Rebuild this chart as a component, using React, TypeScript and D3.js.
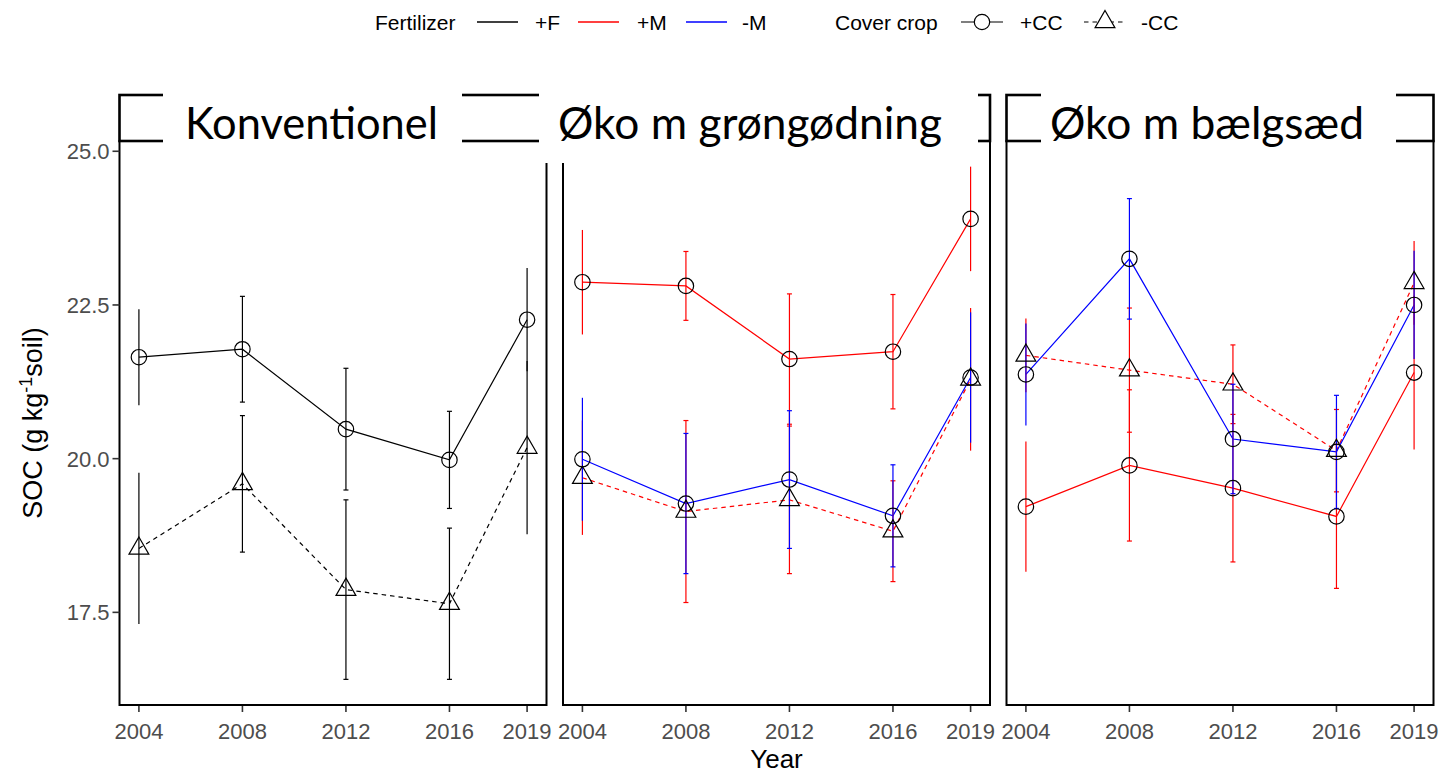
import * as d3 from 'd3';

// Axis categories
const YEARS = [2004, 2008, 2012, 2016, 2019];
const Y_TICKS = [17.5, 20.0, 22.5, 25.0];
const PANEL_TITLES = ["Konventionel", "Øko m grøngødning", "Øko m bælgsæd"];
const FERT_LEVELS = ["+F", "+M", "-M"];
const CC_LEVELS = ["+CC", "-CC"];

// Konventionel (mean and half width of the error bar, g/kg)
const KONV_F_CC = [21.65, 21.78, 20.48, 19.98, 22.26];
const KONV_F_CC_ERR = [0.78, 0.86, 0.99, 0.79, 0.84];
const KONV_F_NOCC = [18.54, 19.59, 17.87, 17.64, 20.18];
const KONV_F_NOCC_ERR = [1.23, 1.11, 1.46, 1.23, 1.41];

// Øko m grøngødning
const GRON_M_CC = [22.87, 22.81, 21.62, 21.74, 23.90];
const GRON_M_CC_ERR = [0.85, 0.56, 1.06, 0.93, 0.85];
const GRON_M_NOCC = [19.69, 19.14, 19.33, 18.82, 21.29];
const GRON_M_NOCC_ERR = [0.93, 1.48, 1.20, 0.82, 1.16];
const GRON_NOM_CC = [19.99, 19.27, 19.66, 19.07, 21.32];
const GRON_NOM_CC_ERR = [1.00, 1.14, 1.12, 0.83, 1.06];

// Øko m bælgsæd
const BAELG_M_CC = [19.22, 19.89, 19.52, 19.06, 21.40];
const BAELG_M_CC_ERR = [1.06, 1.23, 1.20, 1.17, 1.25];
const BAELG_M_NOCC = [21.68, 21.44, 21.21, 20.13, 22.86];
const BAELG_M_NOCC_ERR = [0.60, 1.01, 0.64, 0.67, 0.68];
const BAELG_NOM_CC = [21.37, 23.25, 20.32, 20.11, 22.50];
const BAELG_NOM_CC_ERR = [0.83, 0.98, 0.89, 0.92, 0.88];

const SERIES = [
  { panel: 0, fert: "+F", cc: "+CC", mean: KONV_F_CC, err: KONV_F_CC_ERR },
  { panel: 0, fert: "+F", cc: "-CC", mean: KONV_F_NOCC, err: KONV_F_NOCC_ERR },
  { panel: 1, fert: "+M", cc: "+CC", mean: GRON_M_CC, err: GRON_M_CC_ERR },
  { panel: 1, fert: "+M", cc: "-CC", mean: GRON_M_NOCC, err: GRON_M_NOCC_ERR },
  { panel: 1, fert: "-M", cc: "+CC", mean: GRON_NOM_CC, err: GRON_NOM_CC_ERR },
  { panel: 2, fert: "+M", cc: "+CC", mean: BAELG_M_CC, err: BAELG_M_CC_ERR },
  { panel: 2, fert: "+M", cc: "-CC", mean: BAELG_M_NOCC, err: BAELG_M_NOCC_ERR },
  { panel: 2, fert: "-M", cc: "+CC", mean: BAELG_NOM_CC, err: BAELG_NOM_CC_ERR },
];

const FERT_COLOR = d3.scaleOrdinal<string, string>().domain(FERT_LEVELS).range(["#000000", "#FF0000", "#0000FF"]);
const CC_DASH = d3.scaleOrdinal<string, string>().domain(CC_LEVELS).range(["none", "4.5,4"]);

const W = 1439;
const H = 776;
const PANEL_LEFT = 119.5;
const PANEL_W = 427;
const PANEL_GAP = 16.5;
const PANEL_TOP = 141;
const PANEL_BOTTOM = 705;
const STRIP_TOP = 95;
const AXIS_FONT = "'Liberation Sans', Arial, sans-serif";
const STRIP_FONT = "Lato, 'Open Sans', sans-serif";

function panelX(i: number) {
  return PANEL_LEFT + i * (PANEL_W + PANEL_GAP);
}

// y domain: data range with ggplot's 5% expansion
const lows = SERIES.flatMap(s => s.mean.map((m, i) => m - s.err[i]));
const highs = SERIES.flatMap(s => s.mean.map((m, i) => m + s.err[i]));
const yMin = d3.min(lows)!;
const yMax = d3.max(highs)!;
const yPad = (yMax - yMin) * 0.05;
const y = d3.scaleLinear().domain([yMin - yPad, yMax + yPad]).range([PANEL_BOTTOM, PANEL_TOP]);

const xPad = (YEARS[YEARS.length - 1] - YEARS[0]) * 0.05;
const xDomain = [YEARS[0] - xPad, YEARS[YEARS.length - 1] + xPad];

const triangle = d3.symbol().type(d3.symbolTriangle).size(170)()!;

// white boxes that sit behind the strip titles (they hide parts of the strip frames)
const STRIP_LABELS = [
  { box: [163, 462], y2: 150, text: [185, 438] },
  { box: [539, 978], y2: 163, text: [558, 942] },
  { box: [1041, 1396], y2: 150, text: [1050, 1364] },
];

function Panel({ index }: { index: number }) {
  const x0 = panelX(index);
  const x = d3.scaleLinear().domain(xDomain).range([x0, x0 + PANEL_W]);
  const series = SERIES.filter(s => s.panel === index);
  const line = d3.line<number>().x((_, i) => x(YEARS[i])).y(d => y(d));
  return (
    <g>
      {/* x axis ticks and labels */}
      {YEARS.map(yr => (
        <g key={yr}>
          <line x1={x(yr)} x2={x(yr)} y1={PANEL_BOTTOM} y2={PANEL_BOTTOM + 7} stroke="#333" strokeWidth={1.6} />
          <text x={x(yr)} y={739} textAnchor="middle" fontSize={22} fill="#4D4D4D" fontFamily={AXIS_FONT}>{yr}</text>
        </g>
      ))}
      {/* lines */}
      {series.map((s, k) => (
        <path key={"l" + k} d={line(s.mean)!} fill="none" stroke={FERT_COLOR(s.fert)}
          strokeWidth={1.2} strokeDasharray={CC_DASH(s.cc)} />
      ))}
      {/* error bars */}
      {series.map((s, k) => (
        <g key={"e" + k} stroke={FERT_COLOR(s.fert)} strokeWidth={1.2}>
          {s.mean.map((m, i) => {
            const cx = x(YEARS[i]);
            const capped = i > 0 && i < YEARS.length - 1;
            const top = y(m + s.err[i]);
            const bot = y(m - s.err[i]);
            return (
              <g key={i}>
                <line x1={cx} x2={cx} y1={top} y2={bot} />
                {capped && <line x1={cx - 2.5} x2={cx + 2.5} y1={top} y2={top} />}
                {capped && <line x1={cx - 2.5} x2={cx + 2.5} y1={bot} y2={bot} />}
              </g>
            );
          })}
        </g>
      ))}
      {/* points */}
      {series.map((s, k) => (
        <g key={"p" + k} fill="none" stroke="#000" strokeWidth={1.2}>
          {s.mean.map((m, i) => s.cc === "+CC"
            ? <circle key={i} cx={x(YEARS[i])} cy={y(m)} r={7.7} />
            : <path key={i} d={triangle} transform={`translate(${x(YEARS[i])},${y(m)})`} />)}
        </g>
      ))}
      {/* panel frame */}
      <rect x={x0} y={PANEL_TOP} width={PANEL_W} height={PANEL_BOTTOM - PANEL_TOP} fill="none" stroke="#000" strokeWidth={2} />
      {/* strip frame */}
      <rect x={x0} y={STRIP_TOP} width={PANEL_W} height={PANEL_TOP - STRIP_TOP} fill="none" stroke="#000" strokeWidth={2.6} />
    </g>
  );
}

function Legend() {
  const ly = 22;
  const txt = { fontSize: 21, fontFamily: AXIS_FONT, fill: "#000" };
  const fertKeys = [
    { key: FERT_LEVELS[0], x1: 477, tx: 535 },
    { key: FERT_LEVELS[1], x1: 578, tx: 637 },
    { key: FERT_LEVELS[2], x1: 686, tx: 742 },
  ];
  return (
    <g>
      <text x={375} y={ly + 7.5} {...txt}>Fertilizer</text>
      {fertKeys.map(k => (
        <g key={k.key}>
          <line x1={k.x1} x2={k.x1 + 41} y1={ly} y2={ly} stroke={FERT_COLOR(k.key)} strokeWidth={1.5} />
          <text x={k.tx} y={ly + 7.5} {...txt}>{k.key}</text>
        </g>
      ))}
      <text x={835} y={ly + 7.5} {...txt}>Cover crop</text>
      <line x1={961} x2={1003} y1={ly} y2={ly} stroke="#000" strokeWidth={1.2} />
      <circle cx={982} cy={ly} r={7.7} fill="#fff" stroke="#000" strokeWidth={1.2} />
      <text x={1020} y={ly + 7.5} {...txt}>{CC_LEVELS[0]}</text>
      <line x1={1084} x2={1126} y1={ly} y2={ly} stroke="#000" strokeWidth={1.2} strokeDasharray={CC_DASH(CC_LEVELS[1])} />
      <path d={triangle} transform={`translate(1105,${ly})`} fill="#fff" stroke="#000" strokeWidth={1.2} />
      <text x={1141} y={ly + 7.5} {...txt}>{CC_LEVELS[1]}</text>
    </g>
  );
}

export default function App() {
  return (
    <svg width={W} height={H} viewBox={`0 0 ${W} ${H}`}
      style={{ position: 'absolute', left: 0, top: 0, background: '#fff', display: 'block' }}>
      <rect width={W} height={H} fill="#fff" />
      {PANEL_TITLES.map((_, i) => <Panel key={i} index={i} />)}

      {/* y axis on the first panel only */}
      {Y_TICKS.map(t => (
        <g key={t}>
          <line x1={PANEL_LEFT - 7} x2={PANEL_LEFT} y1={y(t)} y2={y(t)} stroke="#333" strokeWidth={1.6} />
          <text x={PANEL_LEFT - 10} y={y(t) + 8} textAnchor="end" fontSize={22} fill="#4D4D4D" fontFamily={AXIS_FONT}>
            {d3.format(".1f")(t)}
          </text>
        </g>
      ))}

      {/* strip titles */}
      {PANEL_TITLES.map((title, i) => {
        const s = STRIP_LABELS[i];
        return (
          <g key={title}>
            <rect x={s.box[0]} y={84} width={s.box[1] - s.box[0]} height={s.y2 - 84} fill="#fff" />
            <text x={s.text[0]} y={139} fontSize={44} fontFamily={STRIP_FONT} fill="#000"
              textLength={s.text[1] - s.text[0]} lengthAdjust="spacingAndGlyphs">{title}</text>
          </g>
        );
      })}

      {/* axis titles */}
      <text transform={`translate(42,${(PANEL_TOP + PANEL_BOTTOM) / 2}) rotate(-90)`} textAnchor="middle"
        fontSize={27} fontFamily={AXIS_FONT} fill="#000">
        SOC (g kg<tspan dy={-10} fontSize={18}>-1</tspan><tspan dy={10}>soil)</tspan>
      </text>
      <text x={(PANEL_LEFT + panelX(2) + PANEL_W) / 2} y={768} textAnchor="middle" fontSize={26}
        fontFamily={AXIS_FONT} fill="#000">Year</text>

      <Legend />
    </svg>
  );
}
